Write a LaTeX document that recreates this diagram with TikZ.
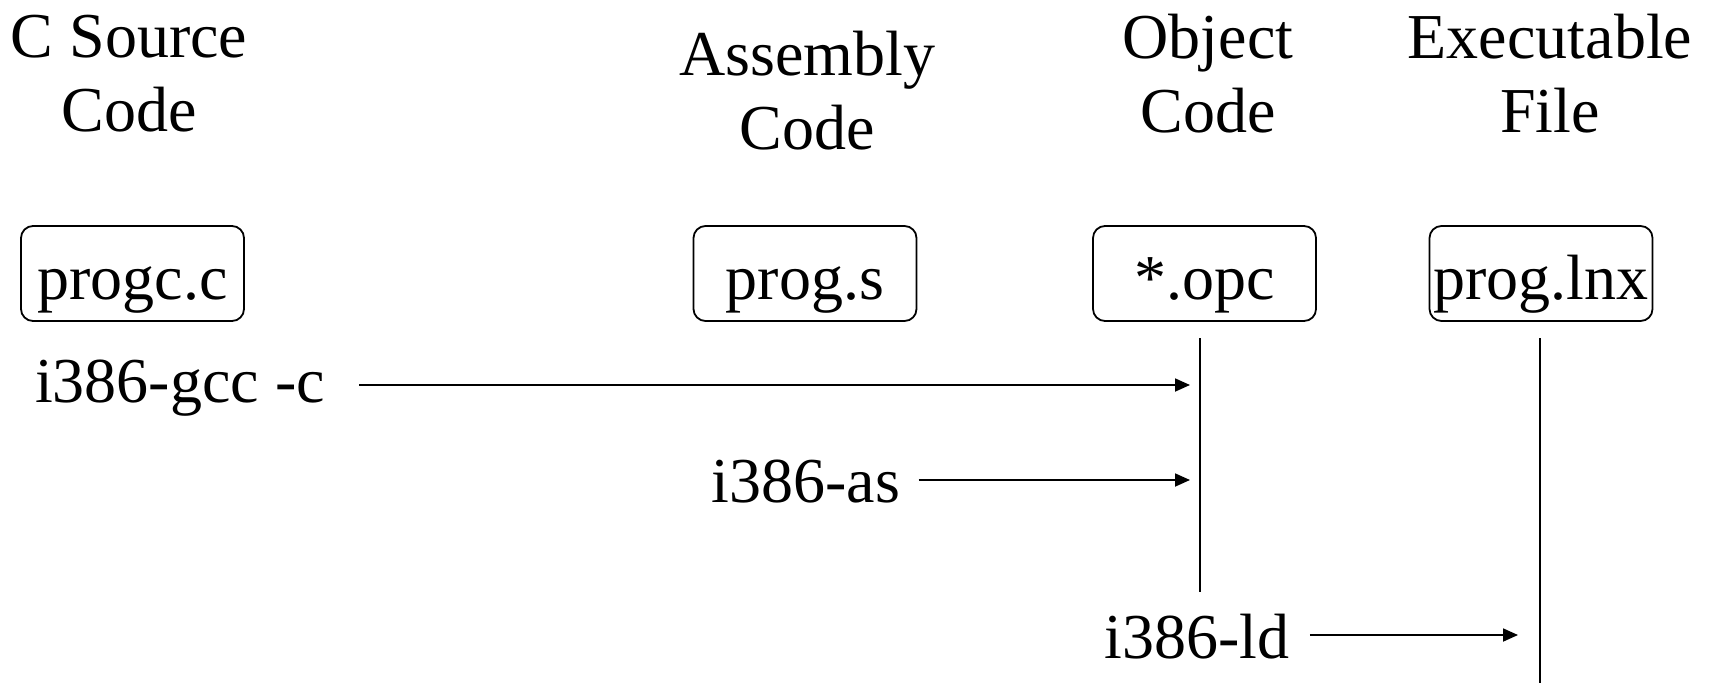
\documentclass[tikz,border=0pt]{standalone}
\usepackage{fontspec}
\setmainfont{Liberation Serif}
\usetikzlibrary{arrows.meta}
\begin{document}
\begin{tikzpicture}[x=0.5pt,y=-0.5pt,
  every node/.style={font=\fontsize{32pt}{37pt}\selectfont, inner sep=0pt},
  title/.style={align=center},
  filebox/.style={draw, line width=0.9pt, rounded corners=6pt,
    minimum width=111.5pt, minimum height=47.5pt,
    text height=30pt, text depth=4pt},
  cmd/.style={anchor=center},
  flow/.style={line width=0.9pt, -{Triangle[length=7.5pt,width=6.5pt]}},
  rail/.style={line width=0.9pt}]
\useasboundingbox (0,0) rectangle (1711,685);

% column headings
\node[title] (hsrc) at (129,74) {C Source\\Code};
\node[title] (hasm) at (807,91) {Assembly\\Code};
\node[title] (hobj) at (1208,74) {Object\\Code};
\node[title] (hexe) at (1550,74) {Executable\\File};

% file boxes
\node[filebox] (src) at (132.5,273.5) {progc.c};
\node[filebox] (asm) at (805,273.5) {prog.s};
\node[filebox] (obj) at (1204.5,273.5) {*.opc};
\node[filebox] (exe) at (1541,273.5) {prog.lnx};

% vertical rails under the object and executable files
\coordinate (objtop) at (1200,338);
\coordinate (objbot) at (1200,592);
\coordinate (exetop) at (1540,338);
\coordinate (exebot) at (1540,683);
\draw[rail] (objtop) -- (objbot);
\draw[rail] (exetop) -- (exebot);

% tool commands
\node[cmd] (gcc) at (180,388) {i386-gcc -c};
\node[cmd] (as) at (806,482) {i386-as};
\node[cmd] (ld) at (1197,637) {i386-ld};

\coordinate (gccend) at (1190,385);
\coordinate (asend) at (1190,480);
\coordinate (ldend) at (1518,635);

\draw[flow] (gcc.east |- gccend) ++(17pt,0) -- (gccend);
\draw[flow] (as.east |- asend) ++(9pt,0) -- (asend);
\draw[flow] (ld.east |- ldend) ++(10pt,0) -- (ldend);
\end{tikzpicture}
\end{document}
